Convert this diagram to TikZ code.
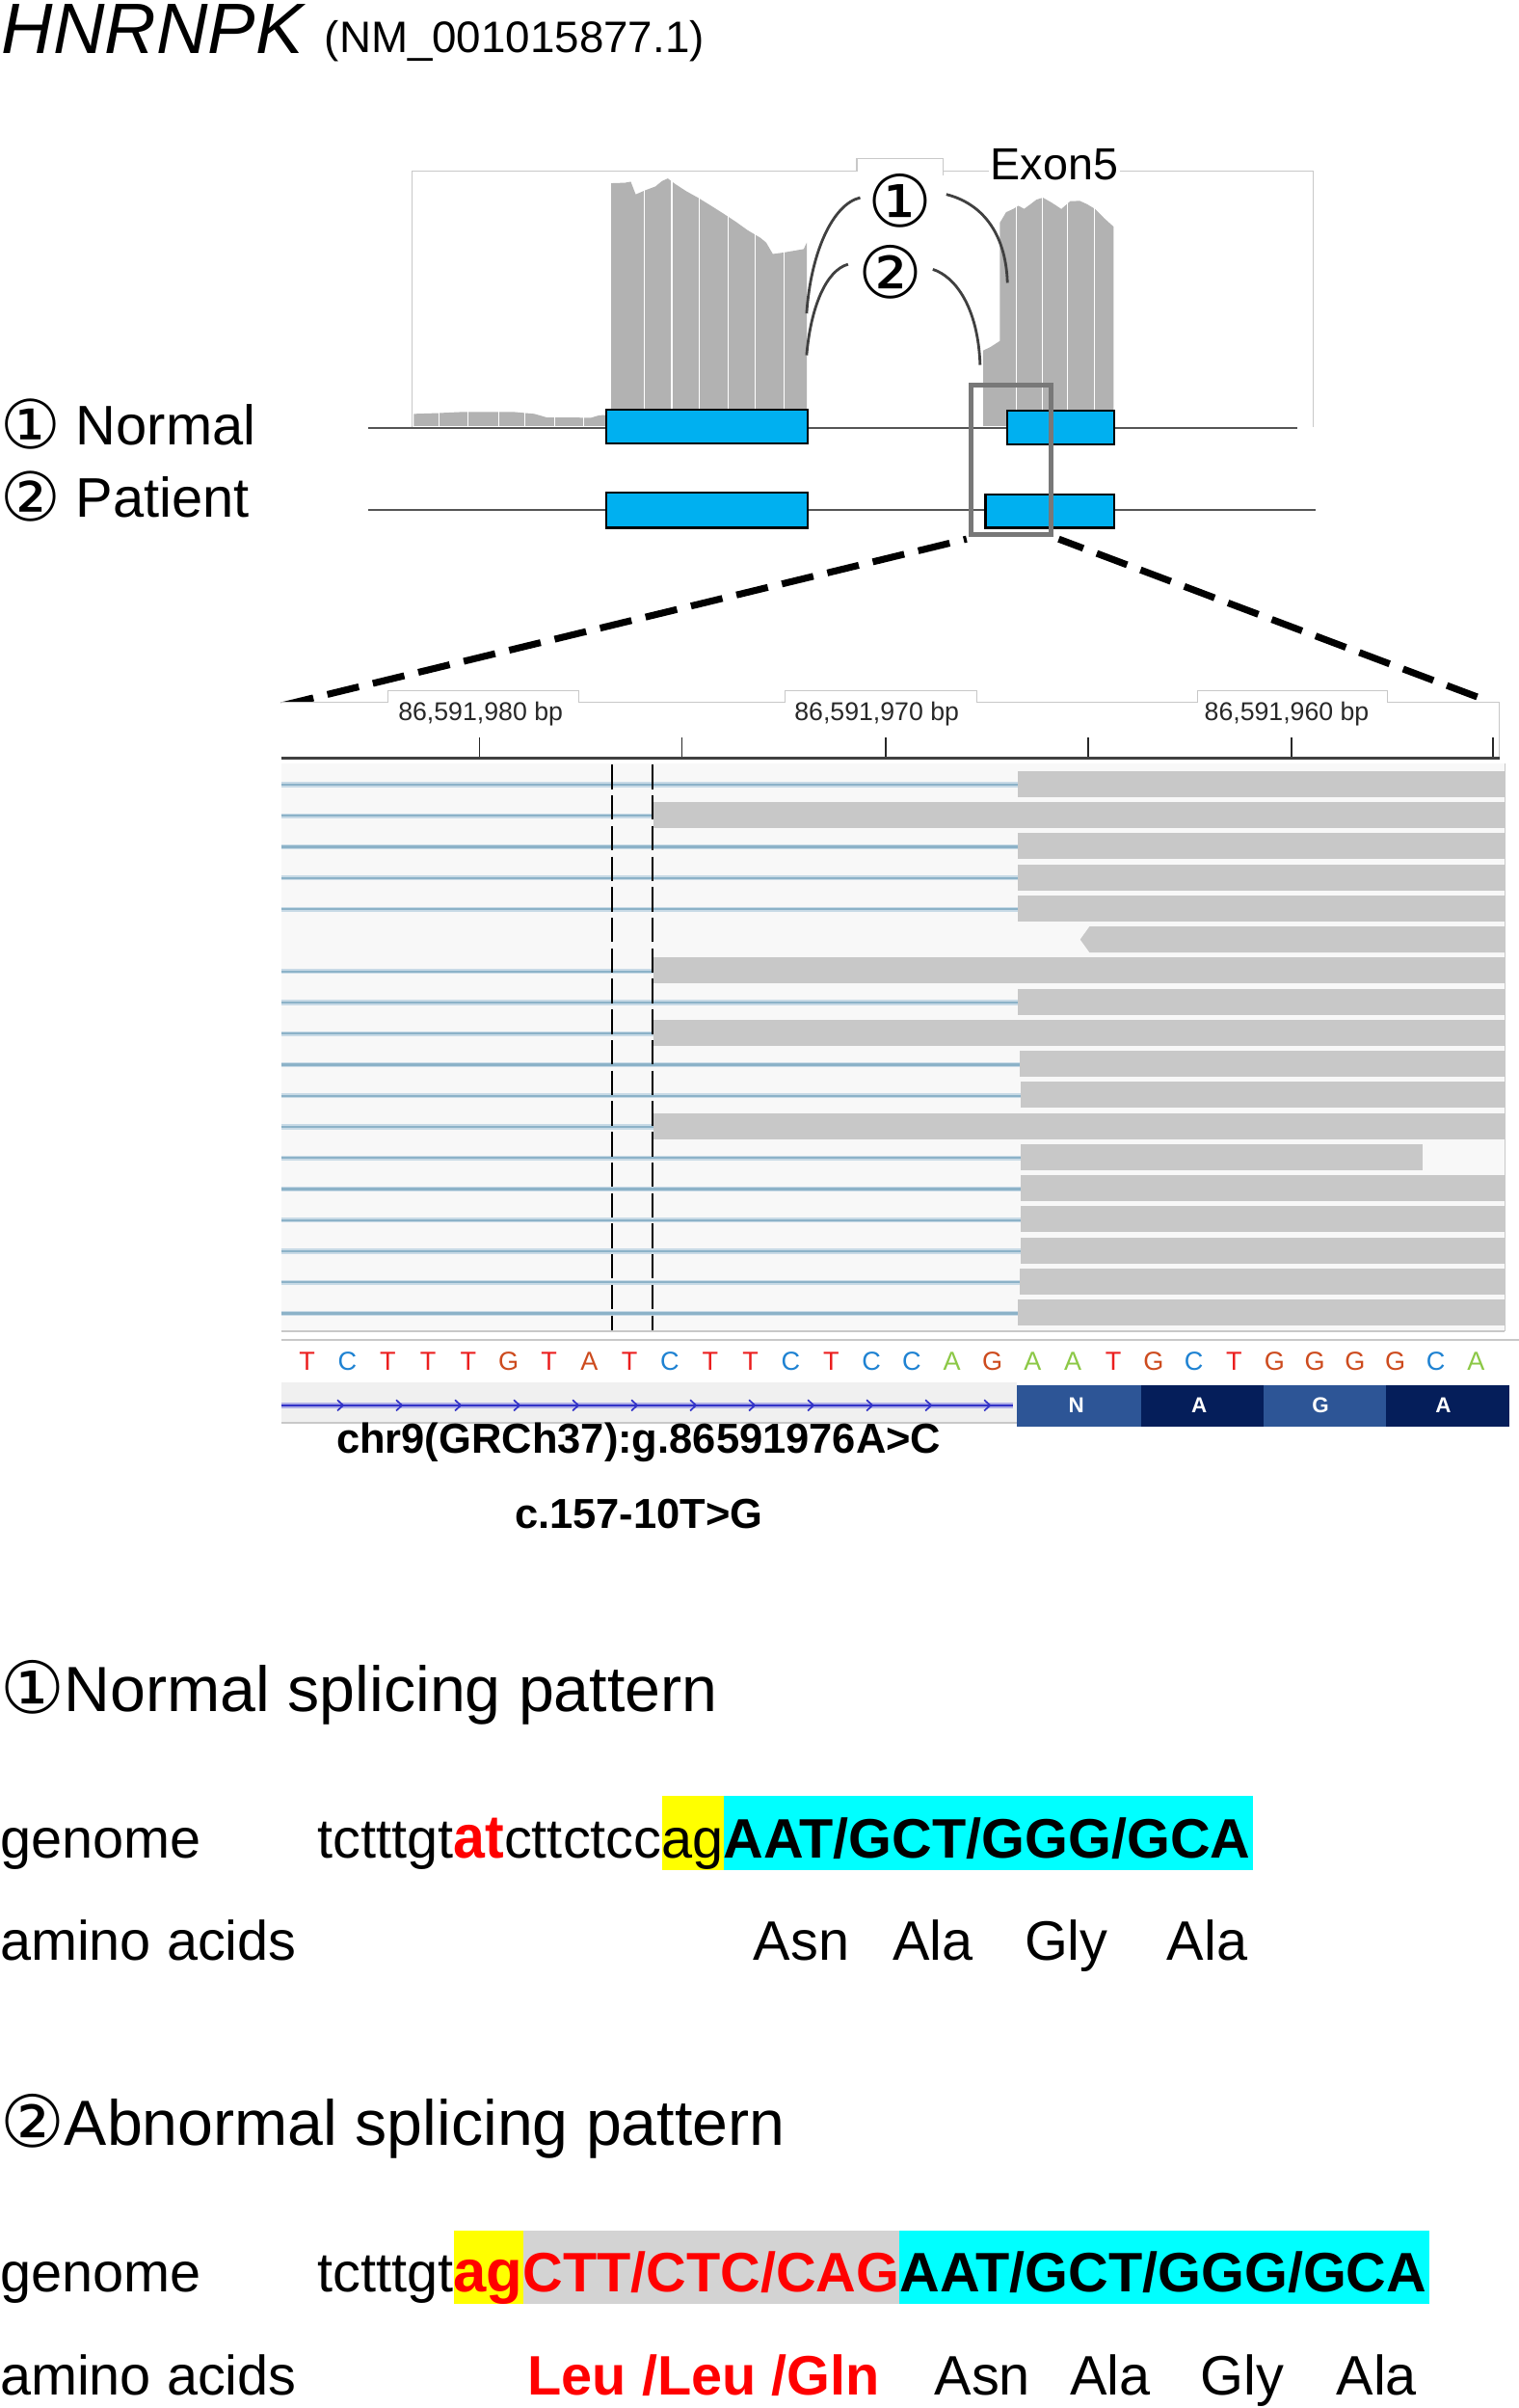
\documentclass[tikz,border=0pt]{standalone}
\usepackage{fontspec}
\usepackage{graphicx}
\setmainfont{Liberation Sans}
\newfontfamily\circfont{DejaVu Sans}
\usetikzlibrary{backgrounds,calc}
\definecolor{exonblue}{RGB}{0,176,240}
\definecolor{hlcyan}{RGB}{0,255,255}
\definecolor{hlyellow}{RGB}{255,255,0}
\definecolor{covgray}{RGB}{178,178,178}
\definecolor{readgray}{RGB}{200,200,200}
\definecolor{boxline}{RGB}{200,200,200}
\definecolor{readbg}{RGB}{248,248,248}
\definecolor{bluelinec}{RGB}{140,178,200}
\definecolor{bluehalo}{RGB}{200,218,230}
\definecolor{selgray}{RGB}{120,120,120}
\definecolor{arcgray}{RGB}{64,64,64}
\definecolor{baseT}{RGB}{235,30,30}
\definecolor{baseC}{RGB}{30,130,210}
\definecolor{baseA}{RGB}{140,200,70}
\definecolor{baseG}{RGB}{205,75,30}
\definecolor{aalight}{RGB}{45,85,150}
\definecolor{aadark}{RGB}{5,30,90}
\definecolor{genecol}{RGB}{50,50,200}
\definecolor{genehalo}{RGB}{175,175,230}
\definecolor{trackbg}{RGB}{240,240,240}
\definecolor{hlgray}{RGB}{211,211,211}
\definecolor{linegray}{RGB}{85,85,85}
\definecolor{rulertxt}{RGB}{40,40,40}
\newcommand{\cnum}[2]{{\circfont\fontsize{#2}{#2}\selectfont #1}}
\tikzset{
  every node/.style={inner sep=0pt, outer sep=0pt},
  txt/.style={anchor=base west},
  gtxt/.style={anchor=base west, font=\fontsize{30.9pt}{31pt}\selectfont},
  gbold/.style={anchor=base west, font=\fontsize{30.9pt}{31pt}\selectfont\bfseries},
  sect/.style={anchor=base west, font=\fontsize{35.5pt}{36pt}\selectfont},
  exonbox/.style={fill=exonblue, draw=black, line width=1.2pt},
  genoline/.style={draw=linegray, line width=1.1pt},
  arcline/.style={draw=arcgray, line width=1.5pt},
  zoomline/.style={draw=black, line width=3.8pt, dash pattern=on 18pt off 8pt},
  seqbase/.style={font=\fontsize{14.5pt}{14pt}\selectfont},
  aaletter/.style={font=\fontsize{12pt}{12pt}\selectfont\bfseries, text=white},
  rulerlab/.style={font=\fontsize{14.3pt}{14pt}\selectfont, text=rulertxt},
  mutline/.style={draw=black, line width=1.1pt, dash pattern=on 13.6pt off 3.4pt},
}
\begin{document}
\begin{tikzpicture}[x=0.03cm,y=-0.03cm]
\begin{scope}[on background layer]
  \fill[white] (0,0) rectangle (989,1568);
\end{scope}
\useasboundingbox (0,0) rectangle (989,1568);

% ---------------- title
\node[txt, font=\fontsize{39.7pt}{40pt}\selectfont\itshape] (title) at (1,35) {HNRNPK};
\node[txt, font=\fontsize{24.5pt}{25pt}\selectfont] (acc) at (211.4,34.5) {(NM\_001015877.1)};

% ---------------- coverage box
\draw[boxline, line width=0.6pt] (268.6,278) -- (268.6,111.4) -- (558,111.4) -- (558,103) -- (614,103) -- (614,114);
\draw[boxline, line width=0.6pt] (614,111.4) -- (855,111.4) -- (855,278);

% coverage profiles
\fill[covgray] (269.5,277.3) -- (269.5,269.5) -- (285,269) -- (300,268.3) -- (335,268.3) -- (348,269.5) -- (356,271.8) -- (385,272) -- (390,270.5) -- (397.6,270) -- (397.6,277.3) -- cycle;
\fill[covgray] (398,277.3) -- (398,119.3) -- (407,119) -- (410.8,118.3) -- (414,126.6) -- (420,124) -- (426.9,121.4) -- (431,118) -- (434.9,116.2) -- (440,120) -- (446.9,124.5) -- (455,129) -- (463.1,134) -- (471,139) -- (479.2,144.4) -- (487,150) -- (495.3,154.9) -- (499,158) -- (503.3,165.4) -- (510,164.5) -- (523.4,162.2) -- (525.4,158) -- (525.4,277.3) -- cycle;
\fill[covgray] (640.4,277.3) -- (640.4,228.2) -- (645,226) -- (651.2,222) -- (651.2,145) -- (655.2,138.2) -- (660,136) -- (663.2,134) -- (667,136) -- (671.2,132.9) -- (675,130) -- (679.2,128.7) -- (685,132) -- (691.2,136.1) -- (697,131) -- (703.2,130.8) -- (708,133) -- (713.2,136.1) -- (719,142) -- (725.2,147.6) -- (725.2,277.3) -- cycle;
\foreach \x in {286,305,325,342,361,380,419.5,437.5,455.3,474,491.8,510.5,662,679,695,713}
  \draw[white, line width=0.6pt] (\x,114) -- (\x,277.3);

% gene model rows
\draw[genoline] (239.7,278.9) -- (845,278.9);
\draw[genoline] (240,332.3) -- (857,332.3);
\filldraw[exonbox] (395,266.9) rectangle (526,288.9);
\filldraw[exonbox] (656,267.5) rectangle (725.5,289.5);
\filldraw[exonbox] (395,320.9) rectangle (526,343.7);
\filldraw[exonbox] (641.8,321.9) rectangle (725.5,343.7);

% labels
\node[fill=white, inner sep=1pt, txt, font=\fontsize{25pt}{25pt}\selectfont] (exon5) at (643.9,117.2) {Exon5};
\node[txt, font=\fontsize{31pt}{31pt}\selectfont] (lnorm) at (0,289.9) {\raisebox{-2pt}{\cnum{①}{37.5pt}}~Normal};
\node[txt, font=\fontsize{31pt}{31pt}\selectfont] (lpat) at (0,337) {\raisebox{-2pt}{\cnum{②}{37.5pt}}~Patient};

% circled numbers and junction arcs
\node (c1) at (586,131) {\cnum{①}{40pt}};
\node (c2) at (580,177) {\cnum{②}{40pt}};
\coordinate (a1s) at (525.3,204.1);
\coordinate (a1m) at (560.2,128.7);
\coordinate (a1n) at (616.3,126.6);
\coordinate (a1e) at (656.1,184.2);
\coordinate (a2s) at (525.3,231.3);
\coordinate (a2m) at (552.3,172.1);
\coordinate (a2n) at (607.5,175.4);
\coordinate (a2e) at (638.3,237.6);
\draw[arcline] (a1s) .. controls (528,165) and (542,133) .. (a1m);
\draw[arcline] (a1n) .. controls (638,132) and (655,150) .. (a1e);
\draw[arcline] (a2s) .. controls (528,200) and (538,176) .. (a2m);
\draw[arcline] (a2n) .. controls (622,180) and (637,200) .. (a2e);

% selection rectangle
\node[draw=selgray, line width=2.6pt, minimum width=1.56cm, minimum height=2.925cm] (sel) at (658.5,299.25) {};

% ---------------- IGV panel
\coordinate (igvTL) at (183.6,459.4);
\coordinate (igvTR) at (962,453.8);
\draw[zoomline] (igvTL) -- ($(sel.south west)+(-3,3)$);
\draw[zoomline] (igvTR) -- ($(sel.south east)+(5,3)$);

% ruler
\fill[white] (183,457.3) rectangle (976.6,494);
\draw[boxline, line width=0.6pt] (183,457.3) -- (252.9,457.3) -- (252.9,450) -- (376.8,450) -- (376.8,457.3) -- (511,457.3) -- (511,450) -- (636,450) -- (636,457.3) -- (780,457.3) -- (780,450) -- (903.6,450) -- (903.6,457.3) -- (976.6,457.3) -- (976.6,494);
\node[rulerlab] (r1) at (313,465) {86,591,980 bp};
\node[rulerlab] (r2) at (571,465) {86,591,970 bp};
\node[rulerlab] (r3) at (838,465) {86,591,960 bp};
\foreach \x in {312.2,444,576.8,708.5,841.2,972.5}
  \draw[rulertxt, line width=0.9pt] (\x,480.4) -- (\x,493);
\draw[black!75, line width=1.9pt] (183,493.6) -- (976.6,493.6);

% reads panel
\fill[readbg] (183,497) rectangle (980,867);
\draw[boxline, line width=0.6pt] (980,497) -- (980,867);
\draw[boxline, line width=0.8pt] (183,867) -- (980,867);
\foreach \i/\s/\e in {0/662.7/980, 1/425.7/980, 2/662.7/980, 3/662.7/980, 4/662.7/980, 6/425.7/980, 7/662.7/980, 8/425.7/980, 9/663.8/980, 10/665/980, 11/425.7/980, 12/665/926.6, 13/665/980, 14/665/980, 15/665/980, 16/664/980, 17/662.7/980}{
  \draw[bluehalo, line width=2.8pt] (183,{511+20.25*\i}) -- (\s,{511+20.25*\i});
  \draw[bluelinec, line width=1.2pt] (183,{511+20.25*\i}) -- (\s,{511+20.25*\i});
  \fill[readgray] (\s,{502+20.25*\i}) rectangle (\e,{519+20.25*\i});
}
\fill[readgray] (709.6,603.25) -- (703.5,611.75) -- (709.6,620.25) -- (980,620.25) -- (980,603.25) -- cycle;
\draw[mutline] (398.7,498) -- (398.7,866);
\draw[mutline] (425.2,498) -- (425.2,866);

% sequence
\draw[boxline, line width=0.7pt] (183,872.4) -- (990,872.4);
\foreach \l/\c [count=\i] in {T/baseT, C/baseC, T/baseT, T/baseT, T/baseT, G/baseG, T/baseT, A/baseG, T/baseT, C/baseC, T/baseT, T/baseT, C/baseC, T/baseT, C/baseC, C/baseC, A/baseA, G/baseG, A/baseA, A/baseA, T/baseT, G/baseG, C/baseC, T/baseT, G/baseG, G/baseG, G/baseG, G/baseG, C/baseC, A/baseA}
  \node[seqbase, text=\c] (s\i) at ({200+26.25*(\i-1)},886.5) {\l};

% gene track
\fill[trackbg] (183,900) rectangle (662.5,926.4);
\draw[boxline, line width=0.7pt] (183,926.4) -- (662.5,926.4);
\draw[genehalo, line width=3.2pt] (183,915.1) -- (660,915.1);
\draw[genecol, line width=1.3pt] (183,915.1) -- (660,915.1);
\foreach \k in {0,...,11}
  \draw[genecol, line width=0.9pt] ({221.7+38.3*\k-2},911.6) -- ({221.7+38.3*\k+1.8},915.1) -- ({221.7+38.3*\k-2},918.6);
\fill[aalight] (662.5,901.7) rectangle (743.4,928.9);
\fill[aadark] (743.4,901.7) rectangle (822.9,928.9);
\fill[aalight] (822.9,901.7) rectangle (902.6,928.9);
\fill[aadark] (902.6,901.7) rectangle (982.7,928.9);
\node[aaletter] (aa1) at (701,915.3) {N};
\node[aaletter] (aa2) at (781,915.3) {A};
\node[aaletter] (aa3) at (860,915.3) {G};
\node[aaletter] (aa4) at (940,915.3) {A};

\node[anchor=base, font=\fontsize{23.3pt}{24pt}\selectfont\bfseries] (gvar) at (416,946) {chr9(GRCh37):g.86591976A>C};
\node[anchor=base, font=\fontsize{23.3pt}{24pt}\selectfont\bfseries] (cvar) at (416,995) {c.157-10T>G};

% ---------------- normal splicing
\node[sect] (sec1) at (0,1114.6) {\raisebox{-1pt}{\cnum{①}{40pt}}Normal splicing pattern};
\node[gtxt] (gen1) at (0,1209.9) {genome};
\node[gtxt] (n1a) at (206.9,1209.9) {tctttgt};
\node[anchor=base west, font=\fontsize{34pt}{34pt}\selectfont\bfseries, text=red] (n1b) at (n1a.base east) {\scalebox{0.93}[1]{at}};
\node[gtxt] (n1c) at (n1b.base east) {cttctcc};
\node[gtxt] (n1d) at (n1c.base east) {ag};
\node[gbold] (n1e) at (n1d.base east) {AAT/GCT/GGG/GCA};
\begin{scope}[on background layer]
  \fill[hlyellow] ($(n1d.base west)+(0,-40.2)$) rectangle ($(n1d.base east)+(0,7.9)$);
  \fill[hlcyan] ($(n1e.base west)+(0,-40.2)$) rectangle ($(n1e.base east)+(1.5,7.9)$);
\end{scope}
\node[gtxt] (aa1t) at (0,1276.7) {amino acids};
\node[gtxt] (n1p1) at (490.7,1276.7) {Asn};
\node[gtxt] (n1p2) at (581.5,1276.7) {Ala};
\node[gtxt] (n1p3) at (667.3,1276.7) {Gly};
\node[gtxt] (n1p4) at (760,1276.7) {Ala};

% ---------------- abnormal splicing
\node[sect] (sec2) at (0,1397.2) {\raisebox{-1pt}{\cnum{②}{40pt}}Abnormal splicing pattern};
\node[gtxt] (gen2) at (0,1492.4) {genome};
\node[gtxt] (n2a) at (206.9,1492.4) {tctttgt};
\node[anchor=base west, font=\fontsize{33pt}{33pt}\selectfont\bfseries, text=red] (n2b) at (n2a.base east) {ag};
\node[gbold, text=red] (n2c) at (n2b.base east) {CTT/CTC/CAG};
\node[gbold] (n2d) at (n2c.base east) {AAT/GCT/GGG/GCA};
\begin{scope}[on background layer]
  \fill[hlyellow] ($(n2b.base west)+(0,-40.2)$) rectangle ($(n2b.base east)+(0,8)$);
  \fill[hlgray] ($(n2c.base west)+(0,-40.2)$) rectangle ($(n2c.base east)+(0,8)$);
  \fill[hlcyan] ($(n2d.base west)+(0,-40.2)$) rectangle ($(n2d.base east)+(1.5,8)$);
\end{scope}
\node[gtxt] (aa2t) at (0,1559.4) {amino acids};
\node[gbold, text=red] (n2p0) at (343.7,1559.4) {Leu /Leu /Gln};
\node[gtxt] (n2p1) at (608.6,1559.4) {Asn};
\node[gtxt] (n2p2) at (697,1559.4) {Ala};
\node[gtxt] (n2p3) at (782,1559.4) {Gly};
\node[gtxt] (n2p4) at (870.4,1559.4) {Ala};
\end{tikzpicture}
\end{document}
